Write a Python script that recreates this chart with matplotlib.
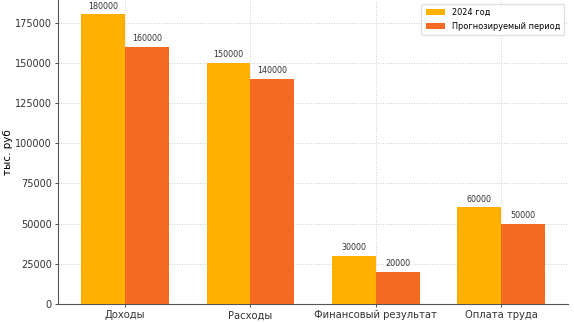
import matplotlib
matplotlib.use("Agg")
import matplotlib.pyplot as plt
import numpy as np

categories = ["Доходы", "Расходы", "Финансовый результат", "Оплата труда"]
values_2024 = [180000, 150000, 30000, 60000]
values_forecast = [160000, 140000, 20000, 50000]
series_labels = ["2024 год", "Прогнозируемый период"]
colors = ["#FFB000", "#F46A22"]

fig = plt.figure(figsize=(5.74, 3.23), dpi=100)
ax = fig.add_axes([0.101, 0.059, 0.889, 0.941])

x = np.arange(len(categories))
w = 0.35
b1 = ax.bar(x - w / 2, values_2024, w, color=colors[0], label=series_labels[0], zorder=3)
b2 = ax.bar(x + w / 2, values_forecast, w, color=colors[1], label=series_labels[1], zorder=3)

for bars in (b1, b2):
    for rect in bars:
        h = rect.get_height()
        ax.annotate(f"{int(h)}", (rect.get_x() + rect.get_width() / 2, h),
                    xytext=(0, 2.5), textcoords="offset points",
                    ha="center", va="bottom", fontsize=5.8, color="#333333")

ax.set_xticks(x)
ax.set_xticklabels(categories, fontsize=7.2)
ax.tick_params(axis="both", length=2.5, width=0.6, colors="#333333", pad=2)
ax.tick_params(axis="x", labelsize=7.2)
ax.tick_params(axis="y", labelsize=7.0)
ax.set_ylabel("тыс. руб", fontsize=7.5)
ax.yaxis.set_label_coords(-0.089, 0.5)
ax.grid(True, linestyle=":", color="#cccccc", linewidth=0.7, zorder=0)
for s in ("top", "right"):
    ax.spines[s].set_visible(False)
for s in ("left", "bottom"):
    ax.spines[s].set_color("#555555")
    ax.spines[s].set_linewidth(0.8)
ax.legend(loc="upper right", fontsize=5.9, framealpha=0.9, edgecolor="#dddddd",
          handlelength=2.4, borderpad=0.5, labelspacing=0.55)

fig.savefig("out.png", dpi=100)
